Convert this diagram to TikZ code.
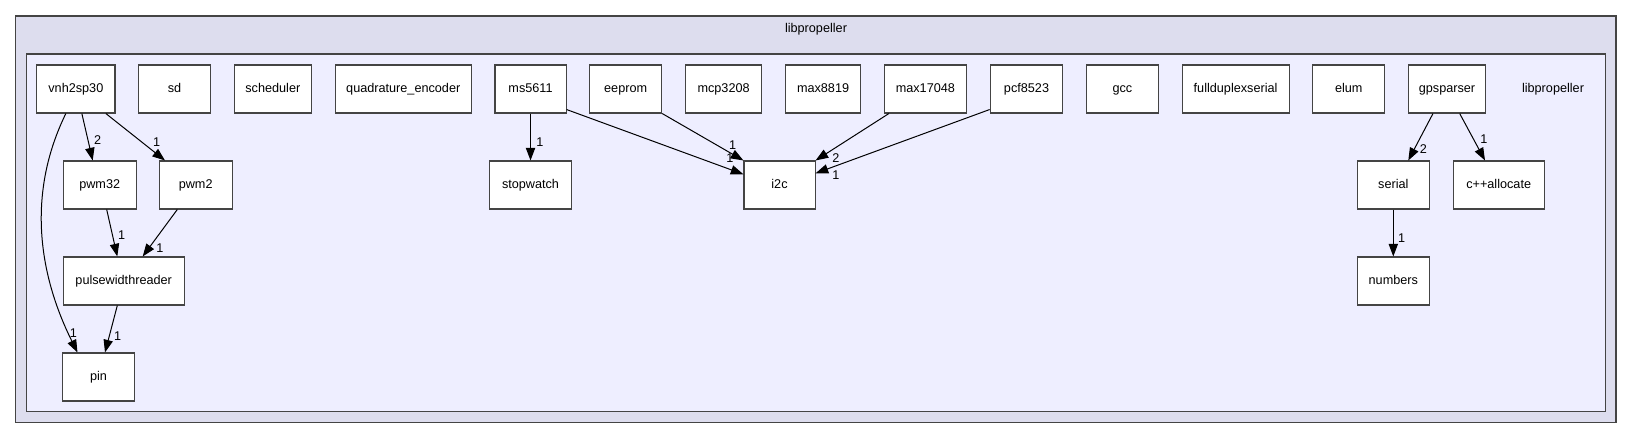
\documentclass[tikz,border=0pt]{standalone}
\usepackage{fontspec}
\setmainfont{Liberation Sans}
\usetikzlibrary{arrows.meta, positioning, calc}
\definecolor{outerfill}{HTML}{DDDDEE}
\definecolor{innerfill}{HTML}{EEEEFF}
\definecolor{linegray}{HTML}{444444}

\begin{document}
\begin{tikzpicture}[
        x=0.75pt, y=-0.75pt,
        font=\fontsize{9.5}{11}\selectfont,
        node distance=16.9pt,
        dir/.style={rectangle, draw=linegray, fill=white, line width=0.8pt, minimum width=54pt, minimum height=36pt, inner sep=1pt, text height=7pt, text depth=2pt, align=center},
        dep/.style={-{Triangle[length=9.5pt, width=7pt]}, line width=0.75pt},
        cnt/.style={inner sep=0pt},
    ]
    \useasboundingbox (0,0) rectangle (1632,439);
    \draw[fill=outerfill, draw=linegray, line width=0.8pt] (15.5,16) rectangle (1616,422.5);
    \draw[fill=innerfill, draw=linegray, line width=0.8pt] (26.5,54) rectangle (1605.5,411.5);
    \node (title) at (816,29) {libpropeller};
    \node (inlabel) at (1553,89) {libpropeller};

    % top row
    \node[dir, minimum width=58.7pt] (vnh) at (75.85,89) {vnh2sp30};
    \node[dir, right=of vnh] (sd) {sd};
    \node[dir, minimum width=58pt, right=of sd] (sched) {scheduler};
    \node[dir, minimum width=102.2pt, right=of sched] (quad) {quadrature\_encoder};
    \node[dir, minimum width=53.3pt, right=of quad] (ms) {ms5611};
    \node[dir, right=of ms] (eeprom) {eeprom};
    \node[dir, minimum width=57.5pt, right=of eeprom] (mcp) {mcp3208};
    \node[dir, minimum width=56.3pt, right=of mcp] (m8819) {max8819};
    \node[dir, minimum width=61.8pt, right=of m8819] (m17048) {max17048};
    \node[dir, minimum width=54.5pt, right=of m17048] (pcf) {pcf8523};
    \node[dir, right=of pcf] (gcc) {gcc};
    \node[dir, minimum width=80.3pt, right=of gcc] (fds) {fullduplexserial};
    \node[dir, right=of fds] (elum) {elum};
    \node[dir, minimum width=58pt, right=of elum] (gps) {gpsparser};

    % lower rows
    \node[dir, minimum width=54.5pt] (pwm32) at (99.7,185) {pwm32};
    \node[dir, minimum width=54.5pt] (pwm2) at (195.7,185) {pwm2};
    \node[dir, minimum width=62pt, below=35.2pt of ms] (stopwatch) {stopwatch};
    \node[dir, minimum width=53.3pt] (i2c) at (779.5,185) {i2c};
    \node[dir] (serial) at (1393.3,185) {serial};
    \node[dir, minimum width=68pt] (cpp) at (1498.7,185) {c++allocate};
    \node[dir, minimum width=90.5pt] (pwr) at (123.7,281) {pulsewidthreader};
    \node[dir, below=35.2pt of serial] (numbers) {numbers};
    \node[dir, minimum width=54.3pt] (pin) at (98.5,377) {pin};

    % dependencies
    \draw[dep] ($(vnh.south)+(-10,0)$) .. controls (27,193) and (38,273) .. ($(pin.north)+(-21,0)$);
    \draw[dep] ($(vnh.south)+(6,0)$) -- ($(pwm32.north)+(-7,0)$);
    \draw[dep] ($(vnh.south)+(30,0)$) -- ($(pwm2.north)+(-30.7,0)$);
    \draw[dep] ($(pwm32.south)+(7,0)$) -- ($(pwr.north)+(-6.4,0)$);
    \draw[dep] ($(pwm2.south)+(-18.4,0)$) -- ($(pwr.north)+(19,0)$);
    \draw[dep] ($(pwr.south)+(-6.4,0)$) -- ($(pin.north)+(6.5,0)$);
    \draw[dep] (ms) -- (stopwatch);
    \draw[dep] ($(ms.south east)+(0,-4)$) -- ($(i2c.west)+(0,-10.7)$);
    \draw[dep] (eeprom.south east) -- (i2c.north west);
    \draw[dep] ($(m17048.south)+(-36.5,0)$) -- (i2c.north east);
    \draw[dep] ($(pcf.south west)+(0,-4)$) -- ($(i2c.east)+(0,-11.7)$);
    \draw[dep] ($(gps.south)+(-14,0)$) -- ($(serial.north)+(15,0)$);
    \draw[dep] ($(gps.south)+(12.7,0)$) -- ($(cpp.north)+(-13.7,0)$);
    \draw[dep] (serial) -- (numbers);

    % edge counts
    \node[cnt] (c-vnh-pin) at (73.3,333) {1};
    \node[cnt] (c-vnh-pwm32) at (97.7,140) {2};
    \node[cnt] (c-vnh-pwm2) at (156.7,142.3) {1};
    \node[cnt] (c-pwm32-pwr) at (121.7,235) {1};
    \node[cnt] (c-pwm2-pwr) at (160,247.7) {1};
    \node[cnt] (c-pwr-pin) at (117.7,336) {1};
    \node[cnt] (c-ms-stop) at (540,141.7) {1};
    \node[cnt] (c-ms-i2c) at (730,158.3) {1};
    \node[cnt] (c-eeprom-i2c) at (732.7,145) {1};
    \node[cnt] (c-m17048-i2c) at (836,158.3) {2};
    \node[cnt] (c-pcf-i2c) at (836,175) {1};
    \node[cnt] (c-gps-serial) at (1423.3,149) {2};
    \node[cnt] (c-gps-cpp) at (1484,139.3) {1};
    \node[cnt] (c-serial-num) at (1401.7,237.7) {1};
\end{tikzpicture}
\end{document}
